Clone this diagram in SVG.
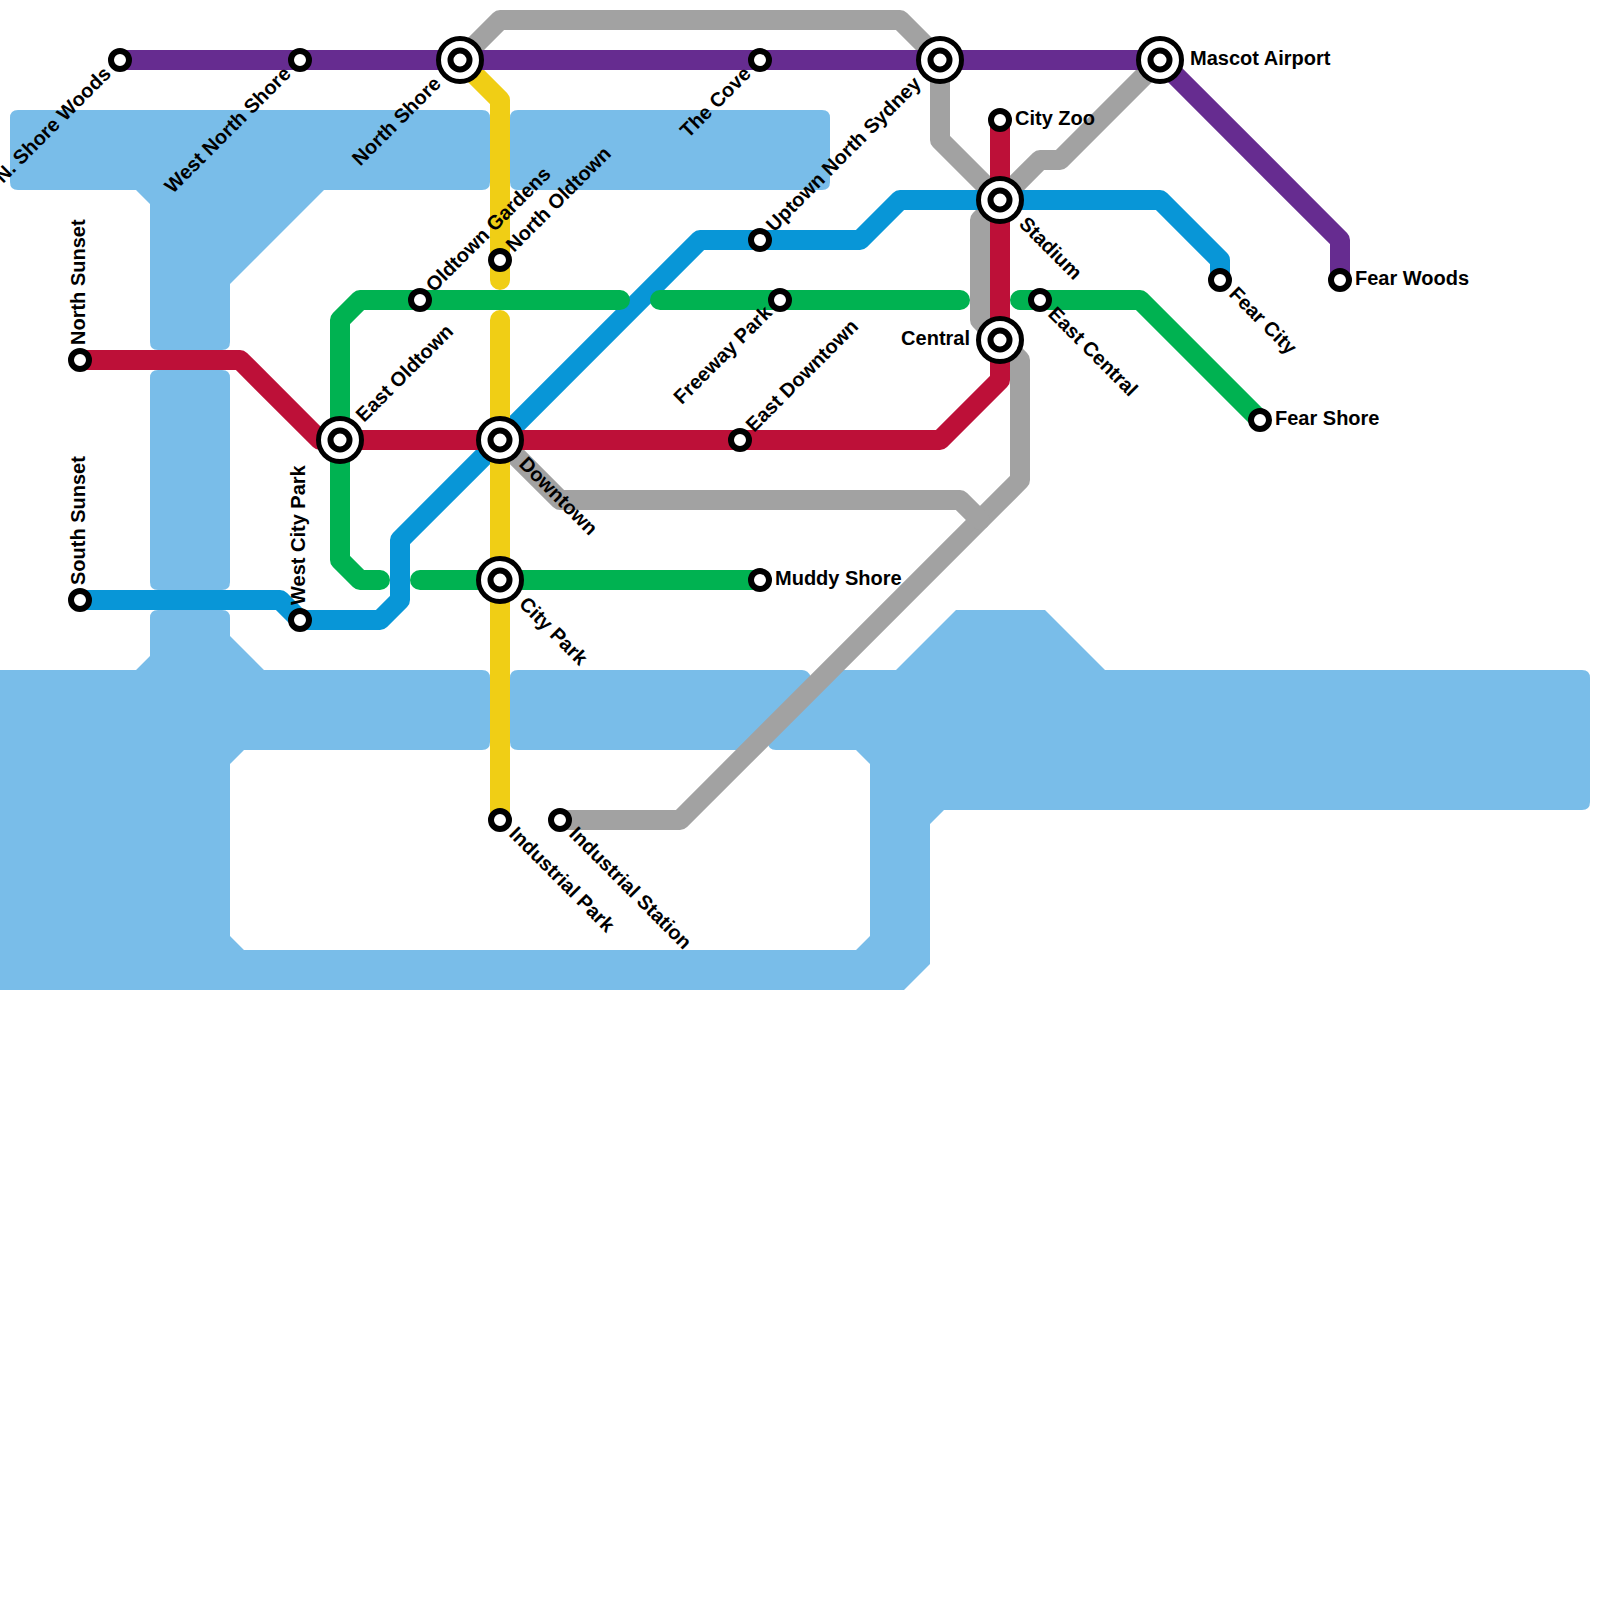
<svg xmlns="http://www.w3.org/2000/svg" width="1600" height="1600" viewBox="0 0 1600 1600">
<style>
.w{fill:#79bde9}
.l{fill:none;stroke-width:20;stroke-linecap:round;stroke-linejoin:round}
.gray{stroke:#a2a2a2}.purple{stroke:#662c90}.red{stroke:#bd1038}.blue{stroke:#0896d7}.green{stroke:#00b251}.yellow{stroke:#f0ce15}
.s{fill:#fff;stroke:#000;stroke-width:6}
.o{fill:#fff;stroke:#000;stroke-width:5}
text{font-family:"Liberation Sans",Arial,sans-serif;font-weight:bold;font-size:20px;fill:#000}
.e{text-anchor:end}
</style>
<rect width="1600" height="1600" fill="#fff"/>
<g id="water">
<path class="w" d="M18 110H482Q490 110 490 118V182Q490 190 482 190H324L230 284V342Q230 350 222 350H158Q150 350 150 342V204L136 190H18Q10 190 10 182V118Q10 110 18 110Z"/>
<path class="w" d="M518 110H822Q830 110 830 118V182Q830 190 822 190H518Q510 190 510 182V118Q510 110 518 110Z"/>
<path class="w" d="M158 370H222Q230 370 230 378V582Q230 590 222 590H158Q150 590 150 582V378Q150 370 158 370Z"/>
<path class="w" d="M158 610H222Q230 610 230 618V636L264 670H482Q490 670 490 678V742Q490 750 482 750H244L230 764V936L244 950H856L870 936V764L856 750H776Q768 750 768 742L840 670H896L956 610H1045L1105 670H1582Q1590 670 1590 678V802Q1590 810 1582 810H944L930 824V964L904 990H-10V670H136L150 656V618Q150 610 158 610Z"/>
<path class="w" d="M518 670H802Q808 670 811 677L740 750H518Q510 750 510 742V678Q510 670 518 670Z"/>
</g>
<g id="connectors">
<path class="l gray" d="M460 60L500 20H900L940 60V140L1000 200L980 220V320L1000 340L1020 360V480L680 820H560"/>
<path class="l gray" d="M1000 200L1040 160H1060L1160 60"/>
<path class="l gray" d="M500 440L560 500H960L980 520"/>
<path class="l blue" d="M80 600H280L300 620H380L400 600V540L700 240H860L900 200H1160L1220 260V280"/>
<path class="l green" d="M340 440V320L360 300H620"/>
<path class="l green" d="M660 300H960"/>
<path class="l green" d="M1020 300H1140L1260 420"/>
<path class="l green" d="M340 440V560L360 580H380"/>
<path class="l green" d="M420 580H760"/>
<path class="l yellow" d="M460 60L500 100V280"/>
<path class="l yellow" d="M500 320V820"/>
<path class="l red" d="M80 360H240L320 440H940L1000 380V120"/>
<path class="l purple" d="M120 60H1160L1340 240V280"/>
</g>
<g id="n-shore-woods"><circle class="s" cx="120" cy="60" r="9"/><text class="e" transform="translate(112 75) rotate(-45)">N. Shore Woods</text></g>
<g id="west-north-shore"><circle class="s" cx="300" cy="60" r="9"/><text class="e" transform="translate(292 75) rotate(-45)">West North Shore</text></g>
<g id="north-shore"><circle class="o" cx="460" cy="60" r="21.5"/><circle class="s" cx="460" cy="60" r="9.5"/><text class="e" transform="translate(442 85) rotate(-45)">North Shore</text></g>
<g id="the-cove"><circle class="s" cx="760" cy="60" r="9"/><text class="e" transform="translate(752 75) rotate(-45)">The Cove</text></g>
<g id="uptown-north-sydney"><circle class="o" cx="940" cy="60" r="21.5"/><circle class="s" cx="940" cy="60" r="9.5"/><text class="e" transform="translate(922 85) rotate(-45)">Uptown North Sydney</text></g>
<g id="mascot-airport"><circle class="o" cx="1160" cy="60" r="21.5"/><circle class="s" cx="1160" cy="60" r="9.5"/><text x="1190" y="65">Mascot Airport</text></g>
<g id="city-zoo"><circle class="s" cx="1000" cy="120" r="9"/><text x="1015" y="125">City Zoo</text></g>
<g id="stadium"><circle class="o" cx="1000" cy="200" r="21.5"/><circle class="s" cx="1000" cy="200" r="9.5"/><text transform="translate(1018 225) rotate(45)">Stadium</text></g>
<g id="central"><circle class="o" cx="1000" cy="340" r="21.5"/><circle class="s" cx="1000" cy="340" r="9.5"/><text class="e" x="970" y="345">Central</text></g>
<g id="fear-city"><circle class="s" cx="1220" cy="280" r="9"/><text transform="translate(1228 295) rotate(45)">Fear City</text></g>
<g id="fear-woods"><circle class="s" cx="1340" cy="280" r="9"/><text x="1355" y="285">Fear Woods</text></g>
<g id="fear-shore"><circle class="s" cx="1260" cy="420" r="9"/><text x="1275" y="425">Fear Shore</text></g>
<g id="east-central"><circle class="s" cx="1040" cy="300" r="9"/><text transform="translate(1047 315) rotate(45)">East Central</text></g>
<g id="freeway-park"><circle class="s" cx="780" cy="300" r="9"/><text class="e" transform="translate(773 314) rotate(-45)">Freeway Park</text></g>
<g id="oldtown-gardens"><circle class="s" cx="420" cy="300" r="9"/><text transform="translate(434 293) rotate(-45)">Oldtown Gardens</text></g>
<g id="north-oldtown"><circle class="s" cx="500" cy="260" r="9"/><text transform="translate(514 253) rotate(-45)">North Oldtown</text></g>
<g id="station-760-240"><circle class="s" cx="760" cy="240" r="9"/></g>
<g id="east-downtown"><circle class="s" cx="740" cy="440" r="9"/><text transform="translate(754 433) rotate(-45)">East Downtown</text></g>
<g id="east-oldtown"><circle class="o" cx="340" cy="440" r="21.5"/><circle class="s" cx="340" cy="440" r="9.5"/><text transform="translate(364 423) rotate(-45)">East Oldtown</text></g>
<g id="downtown"><circle class="o" cx="500" cy="440" r="21.5"/><circle class="s" cx="500" cy="440" r="9.5"/><text transform="translate(518 465) rotate(45)">Downtown</text></g>
<g id="city-park"><circle class="o" cx="500" cy="580" r="21.5"/><circle class="s" cx="500" cy="580" r="9.5"/><text transform="translate(518 605) rotate(45)">City Park</text></g>
<g id="muddy-shore"><circle class="s" cx="760" cy="580" r="9"/><text x="775" y="585">Muddy Shore</text></g>
<g id="industrial-park"><circle class="s" cx="500" cy="820" r="9"/><text transform="translate(508 835) rotate(45)">Industrial Park</text></g>
<g id="industrial-station"><circle class="s" cx="560" cy="820" r="9"/><text transform="translate(568 835) rotate(45)">Industrial Station</text></g>
<g id="north-sunset"><circle class="s" cx="80" cy="360" r="9"/><text transform="translate(85 345) rotate(-90)">North Sunset</text></g>
<g id="south-sunset"><circle class="s" cx="80" cy="600" r="9"/><text transform="translate(85 585) rotate(-90)">South Sunset</text></g>
<g id="west-city-park"><circle class="s" cx="300" cy="620" r="9"/><text transform="translate(305 605) rotate(-90)">West City Park</text></g>
</svg>
